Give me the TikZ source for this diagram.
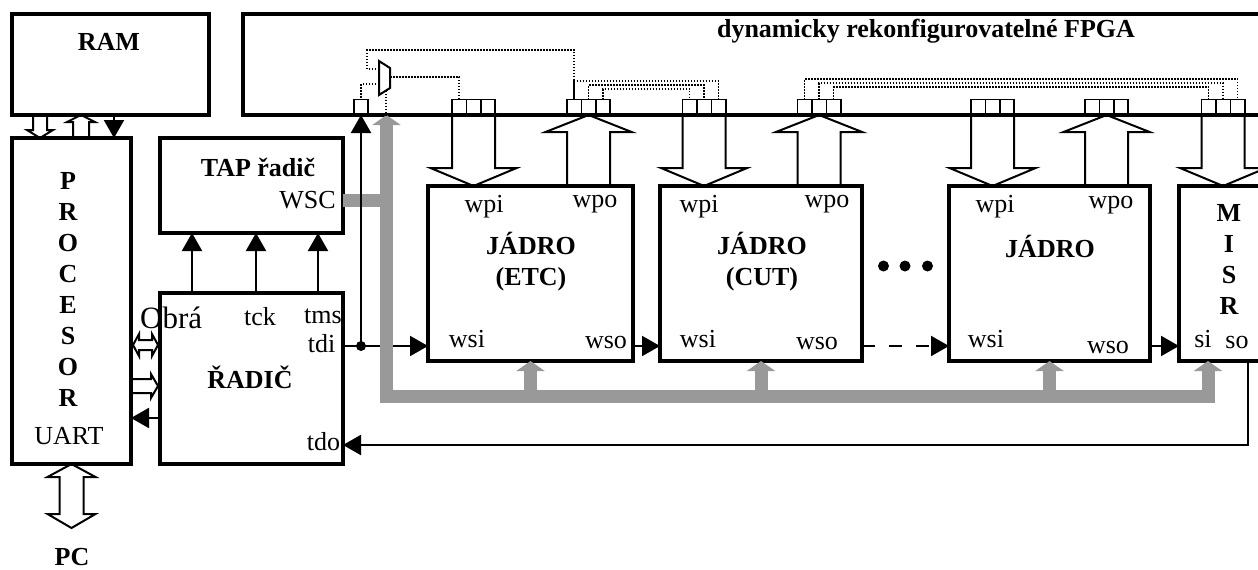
\documentclass[tikz,border=0pt]{standalone}
\usepackage{fontspec}
\setmainfont{Liberation Serif}
\usepackage{tikz}
\usetikzlibrary{arrows.meta}
\definecolor{busgray}{gray}{0.6}

\begin{document}
\fontsize{26}{31}\selectfont
\begin{tikzpicture}[x=1pt, y=-1pt,
  blk/.style={draw, line width=3.3pt, inner sep=0pt, outer sep=0pt, anchor=north west},
  ttl/.style={font=\bfseries, inner sep=0pt, align=center},
  lab/.style={inner sep=0pt},
  sig/.style={line width=2pt, -{Triangle[width=20pt,length=18pt]}},
  hol/.style={draw, line width=2pt, line join=miter},
  cellgrp/.style={draw, line width=1.6pt, minimum width=43.2pt, minimum height=15.5pt,
    inner sep=0pt, outer sep=0pt, anchor=south west,
    path picture={\draw[line width=1.6pt]
      ([xshift=14.4pt]path picture bounding box.south west) -- ([xshift=14.4pt]path picture bounding box.north west)
      ([xshift=-14.4pt]path picture bounding box.south east) -- ([xshift=-14.4pt]path picture bounding box.north east);}},
  dots/.style={line width=1.5pt, dash pattern=on 1.5pt off 1.5pt},
  bus/.style={line width=13pt, busgray},
  busarr/.style={bus, -{Triangle[width=28pt,length=10pt]}}
]
  \useasboundingbox (0,0) rectangle (1258,570);
  \clip (0,0) rectangle (1258,570);

  \node[blk, minimum width=197pt, minimum height=101pt] (ram) at (12,14) {};
  \node[blk, minimum width=1040pt, minimum height=101pt] (fpga) at (243,14) {};
  \node[blk, minimum width=119pt, minimum height=326pt] (proc) at (12,138) {};
  \node[blk, minimum width=183pt, minimum height=95pt] (tap) at (160,138) {};
  \node[blk, minimum width=183pt, minimum height=171pt] (radic) at (160,293) {};
  \node[blk, minimum width=205pt, minimum height=175pt] (etc) at (428,186) {};
  \node[blk, minimum width=202pt, minimum height=175pt] (cut) at (660,186) {};
  \node[blk, minimum width=201pt, minimum height=175pt] (jad) at (949,186) {};
  \node[blk, minimum width=110pt, minimum height=175pt] (misr) at (1179,186) {};

  \node[ttl] (ramt) at (109,41.5) {RAM};
  \node[ttl] (fpgat) at (926,31) {dynamicky rekonfigurovatelné FPGA};
  \node[ttl] (proct) at (68,289) {P\\R\\O\\C\\E\\S\\O\\R};
  \node[lab] (uart) at (69,436) {UART};
  \node[ttl] (tapt) at (258,167) {TAP řadič};
  \node[lab] (wsc) at (307.5,200.5) {WSC};
  \node[lab, anchor=base west, font=\fontsize{31}{36}\selectfont] (obr) at (140,328) {Obrá};
  \node[lab] (tck) at (260,316.5) {tck};
  \node[lab] (tms) at (323,316.5) {tms};
  \node[lab] (tdi) at (321.5,343.5) {tdi};
  \node[ttl] (radict) at (250,377) {ŘADIČ};
  \node[lab] (tdo) at (323.5,442) {tdo};
  \node[ttl] (pc) at (72,557) {PC};

  \node[lab] (etcpi) at (484,207) {wpi};
  \node[lab] (etcpo) at (595,204) {wpo};
  \node[ttl] (etct) at (531,261.5) {JÁDRO\\(ETC)};
  \node[lab] (etcsi) at (467,339) {wsi};
  \node[lab] (etcso) at (606,342) {wso};
  \node[lab] (cutpi) at (699,207) {wpi};
  \node[lab] (cutpo) at (827,204) {wpo};
  \node[ttl] (cutt) at (762,261.5) {JÁDRO\\(CUT)};
  \node[lab] (cutsi) at (698,339) {wsi};
  \node[lab] (cutso) at (817,343) {wso};
  \node[lab] (jadpi) at (995,207) {wpi};
  \node[lab] (jadpo) at (1111,205) {wpo};
  \node[ttl] (jadt) at (1050,246) {JÁDRO};
  \node[lab] (jadsi) at (986,339) {wsi};
  \node[lab] (jadso) at (1108,347) {wso};
  \node[ttl] (misrt) at (1229,259.5) {M\\I\\S\\R};
  \node[lab] (msi) at (1203,339) {si};
  \node[lab] (mso) at (1237,342) {so};

  \node[cellgrp] (e1) at (452,115) {};
  \node[cellgrp] (e2) at (567,115) {};
  \node[cellgrp] (c1) at (682.5,115) {};
  \node[cellgrp] (c2) at (797.5,115) {};
  \node[cellgrp] (j1) at (971,115) {};
  \node[cellgrp] (j2) at (1085,115) {};
  \node[cellgrp] (m1) at (1201.5,115) {};
  \node[draw, line width=1.6pt, minimum width=14pt, minimum height=15.5pt, inner sep=0pt,
        outer sep=0pt, anchor=south] (sq) at (361,115) {};

  \draw[hol] (e1.south west) -- ++(0,53) -- ++(-21.5,0) -- (e1.south |- etc.north) -- ++(43,-18) -- ++(-21.5,0) -- (e1.south east);
  \draw[hol] (e2.south west |- etc.north) -- ++(0,-54) -- ++(-21.5,0) -- (e2.south) -- ++(43,17) -- ++(-21.5,0) -- (e2.south east |- etc.north);
  \draw[hol] (c1.south west) -- ++(0,53) -- ++(-21.5,0) -- (c1.south |- cut.north) -- ++(43,-18) -- ++(-21.5,0) -- (c1.south east);
  \draw[hol] (c2.south west |- cut.north) -- ++(0,-54) -- ++(-21.5,0) -- (c2.south) -- ++(43,17) -- ++(-21.5,0) -- (c2.south east |- cut.north);
  \draw[hol] (j1.south west) -- ++(0,53) -- ++(-21.5,0) -- (j1.south |- jad.north) -- ++(43,-18) -- ++(-21.5,0) -- (j1.south east);
  \draw[hol] (j2.south west |- jad.north) -- ++(0,-54) -- ++(-21.5,0) -- (j2.south) -- ++(43,17) -- ++(-21.5,0) -- (j2.south east |- jad.north);
  \draw[hol] (m1.south west) -- ++(0,53) -- ++(-21.5,0) -- (m1.south |- misr.north) -- ++(43,-18) -- ++(-21.5,0) -- (m1.south east);

  \draw[hol] ([xshift=21pt]ram.south west) -- ++(0,15) -- ++(-6,0) -- ++(13,8) -- ++(13,-8) -- ++(-6,0) -- ++(0,-15);
  \draw[hol] ([xshift=61pt]proc.north west) -- ++(0,-16) -- ++(-6,0) -- ++(14,-7) -- ++(14,7) -- ++(-6,0) -- ++(0,16);
  \draw[sig] ([xshift=102pt]ram.south west) -- ([xshift=102pt]proc.north west);
  \draw[hol] ([xshift=2pt,yshift=119pt]proc.south east) -- ++(6,-11) -- ++(0,6) -- ++(13,0) -- ++(0,-6) -- ++(6,11)
     -- ++(-6,11) -- ++(0,-6) -- ++(-13,0) -- ++(0,6) -- cycle;
  \draw[hol] ([yshift=85pt]proc.south east) -- ++(20,0) -- ++(0,-5) -- ++(7,12) -- ++(-7,12) -- ++(0,-5) -- ++(-20,0);
  \draw[sig] ([yshift=46pt]radic.south west) -- ([yshift=46pt]proc.south east);
  \draw[hol] (proc.south) -- ++(24,13) -- ++(-12,0) -- ++(0,37) -- ++(12,0) -- ++(-24,14) -- ++(-24,-14)
     -- ++(12,0) -- ++(0,-37) -- ++(-12,0) -- cycle;

  \draw[sig] ([xshift=32pt]radic.north west) -- ([xshift=32pt]tap.south west);
  \draw[sig] ([xshift=96pt]radic.north west) -- ([xshift=96pt]tap.south west);
  \draw[sig] ([xshift=158pt]radic.north west) -- ([xshift=158pt]tap.south west);

  \coordinate (jn) at (361,346);
  \coordinate (fb) at (1248,445);
  \coordinate (bus) at (386.5,396.5);
  \draw[sig] (radic.east |- jn) -- (etc.west |- jn);
  \draw[sig] (etc.east |- jn) -- (cut.west |- jn);
  \draw[sig, dash pattern=on 13pt off 14pt] (cut.east |- jn) -- (jad.west |- jn);
  \draw[sig] (jad.east |- jn) -- (misr.west |- jn);
  \draw[sig] (misr.south -| fb) |- (radic.east |- fb);

  \draw[bus] (tap.east |- wsc) -- (bus |- wsc);
  \draw[bus, {Triangle[width=28pt,length=10pt]}-, line join=miter] (bus |- fpga.south) -- (bus) -- ([xshift=35.5pt]misr.south west |- bus);
  \draw[busarr] (etc.south |- bus) -- (etc.south);
  \draw[busarr] (cut.south |- bus) -- (cut.south);
  \draw[busarr] (jad.south |- bus) -- (jad.south);
  \draw[busarr] ([xshift=29pt]misr.south west |- bus) -- ([xshift=29pt]misr.south west);

  \draw[sig] (jn) -- (sq.south);
  \fill (jn) circle (5pt);
  \fill (883.5,266) circle (5.5pt) (905,266) circle (5.5pt) (927.5,266) circle (5.5pt);

  \draw[line width=2pt, line join=miter] (379,61) -- (390,68) -- (390,88) -- (379,95) -- cycle;
  \coordinate (mxa) at (379,69);
  \coordinate (mxb) at (379,84);
  \coordinate (mxo) at (390,77);
  \coordinate (mxs) at (386,90.5);
  \draw[dots] (mxo) -| ([xshift=7.2pt]e1.north west);
  \draw[dots] (mxa) -| (367,50) -| ([xshift=7.2pt]e2.north west);
  \draw[dots] (mxb) -| (sq.north);
  \draw[dots] (mxs) -- (mxs |- fpga.south);
  \draw[dots] ([xshift=7.2pt]e2.north west) -- ++(0,-18.5) -| ([xshift=-7.2pt]c1.north east);
  \draw[dots] (e2.north) -- ++(0,-14.5) -| (c1.north);
  \draw[dots] ([xshift=-7.2pt]e2.north east) -- ++(0,-10.5) -| ([xshift=7.2pt]c1.north west);
  \draw[dots] ([xshift=7.2pt]c2.north west) -- ++(0,-20.5) -| ([xshift=-7.2pt]m1.north east);
  \draw[dots] (c2.north) -- ++(0,-16.5) -| (m1.north);
  \draw[dots] ([xshift=-7.2pt]c2.north east) -- ++(0,-12.5) -| ([xshift=7.2pt]m1.north west);
\end{tikzpicture}
\end{document}
